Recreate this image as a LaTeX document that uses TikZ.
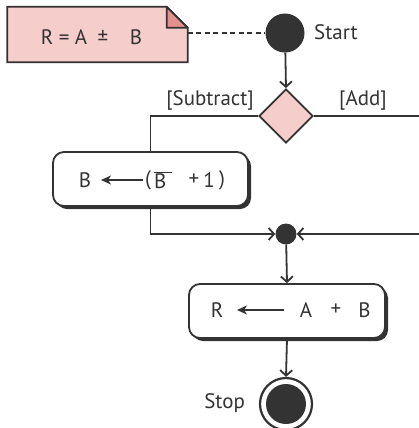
\documentclass[tikz,border=0pt]{standalone}
\usepackage{fontspec}
\setmainfont{PT Sans}
\usetikzlibrary{arrows.meta,shapes.geometric,shadows}
\definecolor{ink}{HTML}{333333}
\definecolor{pinkfill}{HTML}{F5CDCA}
\definecolor{foldfill}{HTML}{E4908D}
\tikzset{
  conn/.style={draw=ink, line width=1.8bp},
  arr/.style={conn, -{Straight Barb[length=5.5bp,width=12bp,line width=1.8bp]}},
  txtarr/.style={draw=ink, line width=2bp, -{Stealth[length=10bp,width=9bp,inset=3bp]}},
  dot/.style={circle, fill=ink, draw=none, inner sep=0pt},
  lbl/.style={font=\fontsize{21}{24}\selectfont, text=ink, inner sep=0pt},
  actbox/.style={rectangle, rounded corners=11bp, draw=ink, line width=1.8bp, fill=white,
    minimum height=54bp, inner sep=0pt,
    drop shadow={shadow xshift=3bp, shadow yshift=-3bp, fill=ink, opacity=1}},
  decision/.style={diamond, aspect=1, draw=ink, line width=1.8bp, fill=pinkfill, minimum size=54bp, inner sep=0pt},
}
\begin{document}
\begin{tikzpicture}[x=1bp,y=-1bp]
\clip (0,0) rectangle (419,428);
\fill[white] (0,0) rectangle (419,428);
% note
\node[minimum width=180bp, minimum height=55bp, inner sep=0pt] (note) at (97.5,34.5) {};
\draw[ink, line width=1.8bp, fill=pinkfill]
  (note.south west) -- (note.north west) -- ([xshift=-21bp]note.north east)
  -- ([yshift=-21bp]note.north east) -- (note.south east) -- cycle;
\draw[ink, line width=1.8bp, fill=foldfill, line join=round]
  ([xshift=-21bp]note.north east) -- ([yshift=-21bp]note.north east)
  -- ([xshift=-21bp,yshift=-21bp]note.north east) -- cycle;
\node[lbl] (n1) at (64,37) {R = A};
\node[lbl] (n2) at (103,37) {±};
\node[lbl] (n3) at (136,37) {B};
% start
\node[dot, minimum size=39bp] (start) at (285,33) {};
\node[lbl, anchor=west] (startlbl) at (314,32) {Start};
% decision
\node[decision] (dec) at (286,116) {};
\node[lbl, anchor=east] (sublbl) at (254,100) {[Subtract]};
\node[lbl, anchor=west] (addlbl) at (339,100) {[Add]};
% box B
\node[actbox, minimum width=195bp] (boxb) at (150.5,179) {};
\node[lbl] (bl) at (85,180) {B};
\node[lbl] (bp1) at (148,180) {(};
\node[lbl, anchor=west] (bbar) at (154,180) {$\overline{\mbox{B\kern6bp}}$};
\node[lbl] (bplus) at (194,180) {+};
\node[lbl] (bone) at (209,180) {1};
\node[lbl] (bp2) at (222,180) {)};
% merge
\node[dot, minimum size=21bp] (merge) at (286,234) {};
% box R
\node[actbox, minimum width=196bp] (boxr) at (287,311) {};
\node[lbl] (rl) at (217,310) {R};
\node[lbl] (ra) at (306,310) {A};
\node[lbl] (rp) at (336,310) {+};
\node[lbl] (rb) at (364.5,310) {B};
% stop
\node[circle, draw=ink, line width=2.2bp, fill=white, minimum size=52bp, inner sep=0pt] (stop) at (286,404) {};
\node[dot, minimum size=40bp] (stopin) at (286,404) {};
\node[lbl, anchor=east] (stoplbl) at (245,403) {Stop};
% coordinates
\coordinate (rt) at (425,116);
\coordinate (rb2) at (425,234);
\coordinate (lb) at (boxb.south |- merge);
\coordinate (ba0) at (143,180);
\coordinate (ba1) at (101,180);
\coordinate (ra0) at (284,310);
\coordinate (ra1) at (237,310);
% connectors
\draw[conn, dash pattern=on 5bp off 3.5bp] (note.east |- start) -- (start.west);
\draw[arr] (start) -- (dec.north);
\draw[conn] (dec.west) -| (boxb.north);
\draw[arr] (boxb.south) -- (lb) -- (merge.west);
\draw[arr] (dec.east) -- (rt) -- (rb2) -- (merge.east);
\draw[arr] (merge) -- (boxr.north);
\draw[arr] (boxr.south) -- (stop.north);
\draw[txtarr] (ba0) -- (ba1);
\draw[txtarr] (ra0) -- (ra1);
\end{tikzpicture}
\end{document}
